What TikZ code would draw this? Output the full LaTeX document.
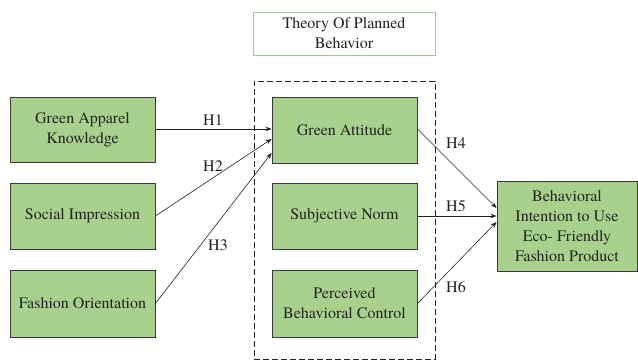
\documentclass[tikz,border=0pt]{standalone}
\usepackage{fontspec}
\setmainfont{TeX Gyre Termes}
\usetikzlibrary{arrows.meta}
\definecolor{boxgreen}{HTML}{A9D18E}
\definecolor{boxedge}{HTML}{3A3A3A}
\definecolor{txt}{HTML}{222222}
\definecolor{lightedge}{HTML}{A8C49A}
\tikzset{
  gbox/.style={draw=boxedge, line width=0.9pt, fill=boxgreen, text=txt, align=center,
    inner sep=0pt, font=\fontsize{16}{20}\selectfont},
  arr/.style={draw=txt, line width=0.6pt, -{Stealth[length=6pt,width=4.5pt]}},
  hlab/.style={text=txt, font=\fontsize{16}{18}\selectfont, inner sep=1pt},
}
\begin{document}
\begin{tikzpicture}[x=1pt,y=-1pt]
\useasboundingbox (0,0) rectangle (638,360);
% top title box
\node[draw=lightedge, line width=0.7pt, fill=white, text=txt, align=center, inner sep=0pt,
  minimum width=182pt, minimum height=43pt, font=\fontsize{16}{20}\selectfont]
  (tpb) at (344,33.5) {Theory Of Planned\\Behavior};
% dashed group
\node[draw=txt, dashed, dash pattern=on 6pt off 3pt, line width=0.7pt, minimum width=181pt, minimum height=278pt, inner sep=0pt]
  (grp) at (344.5,220) {};
% left boxes
\node[gbox, minimum width=145pt, minimum height=65pt] (gak) at (82.5,129.5) {Green Apparel\\Knowledge};
\node[gbox, minimum width=145pt, minimum height=66pt] (si) at (82.5,216) {Social Impression};
\node[gbox, minimum width=145pt, minimum height=67pt] (fo) at (82.5,303.5) {Fashion Orientation};
% middle boxes
\node[gbox, minimum width=145pt, minimum height=66pt] (ga) at (344.5,130) {Green Attitude};
\node[gbox, minimum width=145pt, minimum height=66pt] (sn) at (344.5,216) {Subjective Norm};
\node[gbox, minimum width=145pt, minimum height=67pt] (pbc) at (344.5,303.5) {Perceived\\Behavioral Control};
% right box
\node[gbox, minimum width=140pt, minimum height=90pt] (bi) at (567,226) {Behavioral\\Intention to Use\\Eco- Friendly\\Fashion Product};
% arrows
\draw[arr] (gak.east |- 0,129) -- (ga.west |- 0,129);
\draw[arr] (si.east) -- (ga.west |- 0,139);
\draw[arr] (fo.east) -- (ga.west |- 0,153);
\draw[arr] (ga.east |- 0,129) -- (bi.west |- 0,208);
\draw[arr] (sn.east) -- (bi.west |- 0,216);
\draw[arr] (pbc.east) -- (bi.west |- 0,222);
% labels
\node[hlab] (h1) at (213,120) {H1};
\node[hlab] (h2) at (213,166) {H2};
\node[hlab] (h3) at (218,245) {H3};
\node[hlab] (h4) at (456,143) {H4};
\node[hlab] (h5) at (456,206) {H5};
\node[hlab] (h6) at (456,287) {H6};
\end{tikzpicture}
\end{document}
